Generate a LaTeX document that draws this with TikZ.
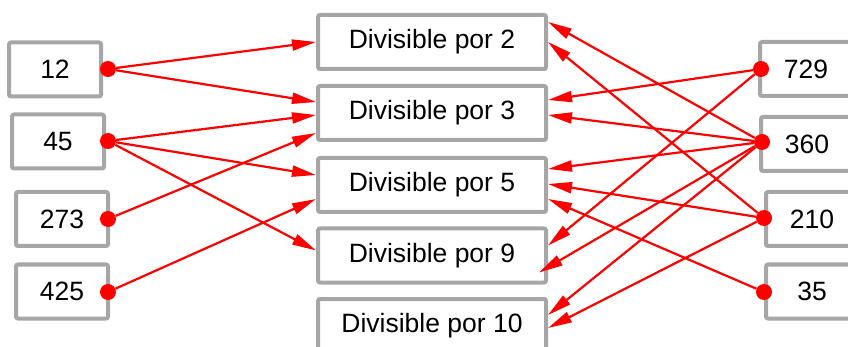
\documentclass[tikz,border=0pt]{standalone}
\usepackage{fontspec}
\setmainfont{Liberation Sans}
\usetikzlibrary{arrows.meta}
\definecolor{cajagris}{RGB}{166,166,166}
\tikzset{
  caja/.style={draw=cajagris, line width=4pt, rounded corners=2pt, fill=white,
    minimum height=54pt, inner sep=0pt, font=\fontsize{26.5}{30}\selectfont},
  numero/.style={caja, minimum width=92pt},
  divisor/.style={caja, minimum width=228pt},
  punto/.style={circle, fill=red, minimum size=16pt, inner sep=0pt},
  flecha/.style={red, line width=2.2pt, -{Triangle[length=24pt,width=11pt]}}
}
\begin{document}
\begin{tikzpicture}[x=1pt, y=-1pt]
        \useasboundingbox (0,0) rectangle (848,347);
        % Numeros de la izquierda
        \node[numero] (n12) at (55,69.5) {12};
        \node[numero] (n45) at (58,141.5) {45};
        \node[numero] (n273) at (62,219) {273};
        \node[numero] (n425) at (62,291.5) {425};

        % Divisibilidad
        \node[divisor] (d2) at (432,42) {Divisible por 2};
        \node[divisor] (d3) at (432,113) {Divisible por 3};
        \node[divisor] (d5) at (432,185) {Divisible por 5};
        \node[divisor] (d9) at (432,255.5) {Divisible por 9};
        \node[divisor] (d10) at (432,326) {Divisible por 10};

        % Numeros de la derecha
        \node[numero] (n729) at (806,69) {729};
        \node[numero] (n360) at (807,144) {360};
        \node[numero] (n210) at (812,219) {210};
        \node[numero] (n35) at (812,291.5) {35};

        % Puntos
        \node[punto] (p12) at (108,69) {};
        \node[punto] (p45) at (108,141) {};
        \node[punto] (p273) at (108,219) {};
        \node[punto] (p425) at (108,292) {};
        \node[punto] (p729) at (761,69) {};
        \node[punto] (p360) at (762,142) {};
        \node[punto] (p210) at (764,218) {};
        \node[punto] (p35) at (764,292) {};

        % Flechas desde la izquierda
        \draw[flecha] (p12) -- (d2.west);
        \draw[flecha] (p12) -- ([yshift=11pt]d3.west);
        \draw[flecha] (p45) -- ([yshift=-2pt]d3.west);
        \draw[flecha] (p273) -- ([yshift=-20pt]d3.west);
        \draw[flecha] (p45) -- ([yshift=10pt]d5.west);
        \draw[flecha] (p425) -- ([yshift=-14pt]d5.west);
        \draw[flecha] (p45) -- ([yshift=5pt]d9.west);

        % Flechas desde la derecha
        \draw[flecha] (p360) -- ([yshift=20pt]d2.east);
        \draw[flecha] (p210) -- (d2.east);
        \draw[flecha] (p729) -- ([yshift=13pt]d3.east);
        \draw[flecha] (p360) -- ([yshift=-2pt]d3.east);
        \draw[flecha] (p360) -- ([yshift=16pt]d5.east);
        \draw[flecha] (p210) -- ([yshift=1pt]d5.east);
        \draw[flecha] (p35) -- ([yshift=-14pt]d5.east);
        \draw[flecha] (p729) -- ([yshift=10pt]d9.east);
        \draw[flecha] (p360) -- ([xshift=-9pt,yshift=-17pt]d9.east);
        \draw[flecha] (p360) -- ([yshift=11pt]d10.east);
        \draw[flecha] (p210) -- ([yshift=-2pt]d10.east);
\end{tikzpicture}
\end{document}
